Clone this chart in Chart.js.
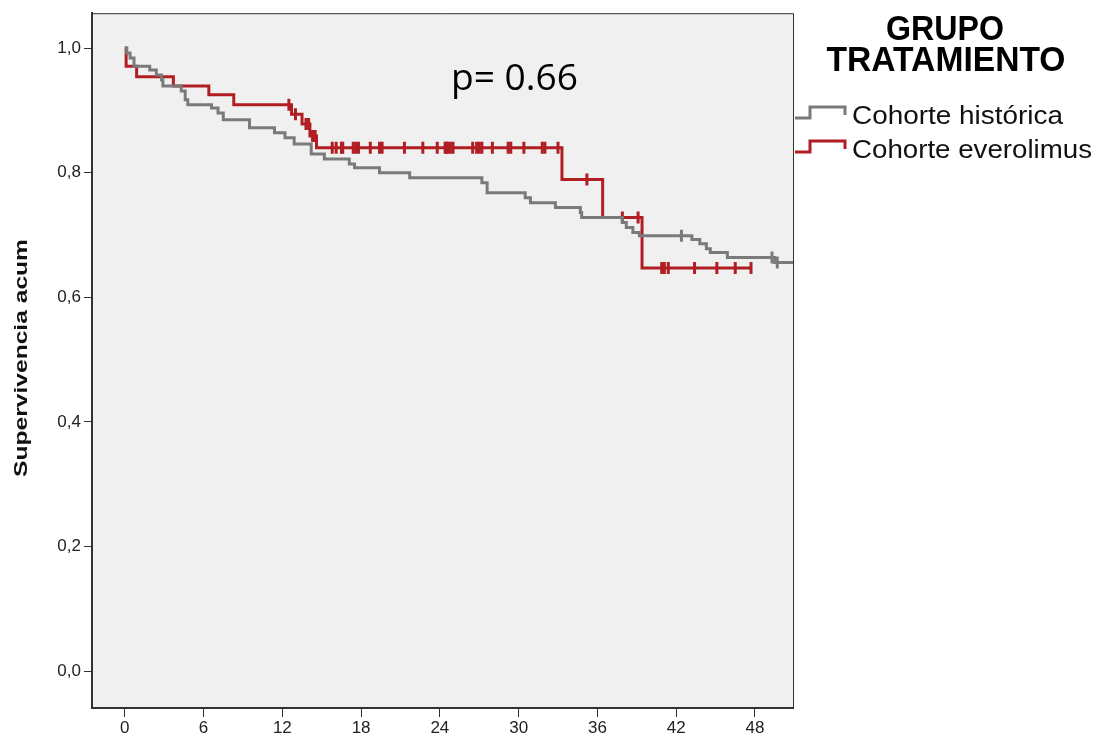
<!DOCTYPE html>
<html lang="es">
<head>
<meta charset="UTF-8">
<title>Supervivencia acumulada</title>
<script src="https://cdn.jsdelivr.net/npm/chart.js"></script>
<style>
  body { margin: 0; background: #fff; }
  #wrap { width: 1099px; height: 740px; }
</style>
</head>
<body>
<div id="wrap"><canvas id="kmChart"></canvas></div>
<script>
// ejes
const xTicks = [0, 6, 12, 18, 24, 30, 36, 42, 48];
const yTicks = [0, 0.2, 0.4, 0.6, 0.8, 1.0];

// Cohorte histórica (tiempos en meses, supervivencia acumulada)
const histTimes = [0, 0.15, 0.4, 0.7, 1.9, 2.4, 2.8, 2.9, 4.3, 4.6, 4.8, 6.6, 7.1, 7.5, 9.5, 11.4, 12.2, 12.9,
                   14.2, 15.2, 17.1, 17.5, 19.4, 21.7, 27.2, 27.6, 30.5, 30.9, 32.8, 34.7, 34.8, 37.9, 38.2, 38.7,
                   39.2, 43.2, 43.8, 44.3, 44.6, 45.9, 49.5, 51];
const histSurv  = [1.0, 0.992, 0.984, 0.971, 0.965, 0.957, 0.949, 0.939, 0.931, 0.917, 0.909, 0.904, 0.896, 0.885,
                   0.872, 0.864, 0.856, 0.846, 0.830, 0.822, 0.814, 0.808, 0.800, 0.792, 0.784, 0.768, 0.760, 0.752,
                   0.744, 0.736, 0.728, 0.720, 0.712, 0.704, 0.699, 0.693, 0.686, 0.678, 0.672, 0.664, 0.656, 0.656];
const histCensor = [42.4, 49.3, 49.7];

// Cohorte everolimus
const everTimes = [0, 0.1, 0.9, 3.7, 6.4, 8.3, 12.7, 13.5, 14.1, 14.6, 33.3, 36.4, 39.4, 47.7];
const everSurv  = [1.0, 0.971, 0.954, 0.939, 0.925, 0.909, 0.894, 0.878, 0.859, 0.840, 0.789, 0.728, 0.647, 0.647];
const everCensor = [12.5, 13.0, 13.8, 14.0, 14.3, 14.5, 15.8, 16.1, 16.5, 16.6, 17.4, 17.6, 17.8, 18.7, 19.4, 19.6,
                    21.3, 22.7, 23.8, 24.4, 24.5, 24.6, 24.8, 25.0, 26.5, 26.8, 27.0, 27.2, 28.0, 29.2, 29.4, 30.4,
                    31.8, 32.0, 33.0, 35.2, 37.9, 39.1, 40.9, 41.1, 41.4, 43.4, 45.1, 46.5, 47.7];

const GRAY = '#7a7a7a';
const RED = '#b01e23';
const FONT = "'Liberation Sans', Arial, sans-serif";

// valor de la curva escalonada en el tiempo t
function survAt(times, surv, t) {
    let v = surv[0];
    for (let i = 0; i < times.length; i++) {
        if (times[i] <= t) v = surv[i];
    }
    return v;
}

function steps(times, surv) {
    return times.map((t, i) => ({ x: t, y: surv[i] }));
}

function censors(list, times, surv) {
    return list.map(t => ({ x: t, y: survAt(times, surv, t) }));
}

// texto ajustado a un ancho dado
function fitText(ctx, text, x, y, width, align) {
    const w = ctx.measureText(text).width;
    const k = width / w;
    ctx.save();
    let left = x;
    if (align === 'center') left = x - width / 2;
    ctx.translate(left, y);
    ctx.scale(k, 1);
    ctx.textAlign = 'left';
    ctx.fillText(text, 0, 0);
    ctx.restore();
}

const decor = {
    id: 'decor',
    beforeDraw(chart) {
        const { ctx, chartArea: a } = chart;
        ctx.save();
        ctx.fillStyle = '#f0f0f0';
        ctx.fillRect(a.left, a.top, a.right - a.left, a.bottom - a.top);
        ctx.restore();
    },
    afterDraw(chart) {
        const { ctx, chartArea: a } = chart;
        ctx.save();
        // marco superior y derecho
        ctx.strokeStyle = '#333';
        ctx.lineWidth = 1;
        ctx.beginPath();
        ctx.moveTo(a.left, a.top + 0.5);
        ctx.lineTo(a.right + 0.5, a.top + 0.5);
        ctx.lineTo(a.right + 0.5, a.bottom);
        ctx.stroke();

        // titulo eje Y
        ctx.fillStyle = '#111';
        ctx.font = 'bold 19px ' + FONT;
        ctx.textBaseline = 'middle';
        ctx.save();
        ctx.translate(22, 358);
        ctx.rotate(-Math.PI / 2);
        fitText(ctx, 'Supervivencia acum', 0, 0, 238, 'center');
        ctx.restore();

        // valor p
        ctx.fillStyle = '#000';
        ctx.font = "37px 'Open Sans', sans-serif";
        ctx.textBaseline = 'alphabetic';
        fitText(ctx, 'p= 0.66', 451, 90, 127, 'left');

        // leyenda
        ctx.font = 'bold 35px ' + FONT;
        fitText(ctx, 'GRUPO', 945, 40, 118, 'center');
        fitText(ctx, 'TRATAMIENTO', 946, 71, 239, 'center');

        const items = [
            { label: 'Cohorte histórica', color: GRAY, y: 118, w: 211 },
            { label: 'Cohorte everolimus', color: RED, y: 152, w: 240 }
        ];
        items.forEach(it => {
            ctx.strokeStyle = it.color;
            ctx.lineWidth = 3;
            ctx.beginPath();
            ctx.moveTo(795, it.y);
            ctx.lineTo(810, it.y);
            ctx.lineTo(810, it.y - 11);
            ctx.lineTo(845, it.y - 11);
            ctx.lineTo(845, it.y - 3);
            ctx.stroke();
            ctx.fillStyle = '#111';
            ctx.font = '25px ' + FONT;
            fitText(ctx, it.label, 852, it.y + 6, it.w, 'left');
        });
        ctx.restore();
    }
};

const ctx = document.getElementById('kmChart').getContext('2d');
new Chart(ctx, {
    type: 'line',
    data: {
        datasets: [
            {
                label: 'Cohorte histórica',
                data: steps(histTimes, histSurv),
                borderColor: GRAY,
                borderWidth: 3,
                stepped: 'before',
                pointRadius: 0,
                fill: false
            },
            {
                label: 'Cohorte everolimus',
                data: steps(everTimes, everSurv),
                borderColor: RED,
                borderWidth: 3,
                stepped: 'before',
                pointRadius: 0,
                fill: false
            },
            {
                label: 'censurados histórica',
                data: censors(histCensor, histTimes, histSurv),
                showLine: false,
                pointStyle: 'line',
                rotation: 90,
                pointRadius: 6,
                borderWidth: 3,
                borderColor: GRAY
            },
            {
                label: 'censurados everolimus',
                data: censors(everCensor, everTimes, everSurv),
                showLine: false,
                pointStyle: 'line',
                rotation: 90,
                pointRadius: 6,
                borderWidth: 3,
                borderColor: RED
            }
        ]
    },
    options: {
        responsive: true,
        maintainAspectRatio: false,
        animation: false,
        layout: { padding: { top: 12, right: 306, left: 0, bottom: 0 } },
        plugins: {
            legend: { display: false },
            tooltip: { enabled: false }
        },
        scales: {
            x: {
                type: 'linear',
                min: -2.5,
                max: 50.9,
                afterBuildTicks: s => { s.ticks = xTicks.map(v => ({ value: v })); },
                afterFit: s => { s.height = 32; },
                grid: { drawOnChartArea: false, tickLength: 9, color: '#333' },
                border: { display: true, color: '#333', width: 2 },
                ticks: {
                    color: '#222',
                    font: { family: FONT, size: 17 },
                    padding: 1,
                    maxRotation: 0,
                    autoSkip: false
                }
            },
            y: {
                min: -0.059,
                max: 1.056,
                afterBuildTicks: s => { s.ticks = yTicks.map(v => ({ value: v })); },
                afterFit: s => { s.width = 92; },
                grid: { drawOnChartArea: false, tickLength: 8, color: '#333' },
                border: { display: true, color: '#333', width: 2 },
                ticks: {
                    color: '#222',
                    font: { family: FONT, size: 17 },
                    padding: 3,
                    callback: v => v.toFixed(1).replace('.', ',')
                }
            }
        }
    },
    plugins: [decor]
});
</script>
</body>
</html>
